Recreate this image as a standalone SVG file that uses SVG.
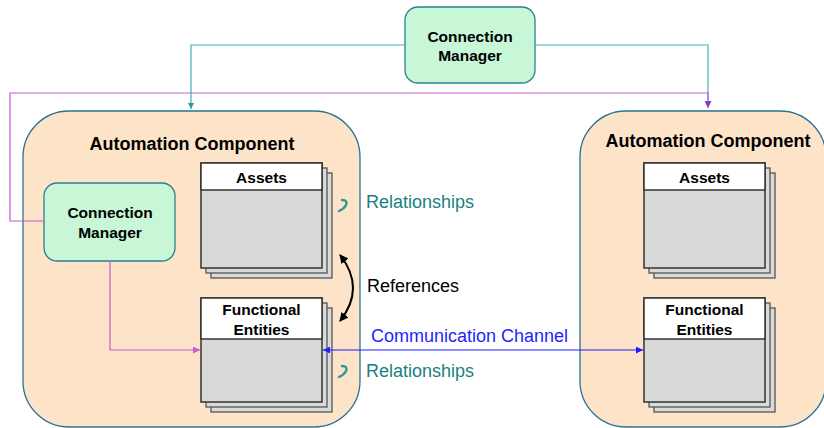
<svg xmlns="http://www.w3.org/2000/svg" width="824" height="428" viewBox="0 0 824 428">
  <defs>
    <style>
      .container { fill: #fde3c8; stroke: #2b7393; stroke-width: 1.3; }
      .mgr { fill: #c7f7d6; stroke: #2f7f93; stroke-width: 1.3; }
      .sheet { fill: #dadada; stroke: #555; stroke-width: 1.3; }
      .front { fill: #d9d9d9; stroke: #333; stroke-width: 1.5; }
      .head { fill: #ffffff; stroke: #333; stroke-width: 1.5; }
      .title { font-family: "Liberation Sans", Arial, sans-serif; font-weight: bold; font-size: 18px; fill: #000; text-anchor: middle; }
      .lbl { font-family: "Liberation Sans", Arial, sans-serif; font-weight: bold; font-size: 15.5px; fill: #000; text-anchor: middle; }
      .note { font-family: "Liberation Sans", Arial, sans-serif; font-size: 18px; }
      .teal { fill: none; stroke: #45aeb6; stroke-width: 1.2; }
      .mag { fill: none; stroke: #c45ed2; stroke-width: 1.2; }
      .rel { fill: none; stroke: #2a9a92; stroke-width: 2.4; stroke-linecap: round; }
    </style>
    <marker id="ahTeal" viewBox="0 0 10 10" refX="10" refY="5" markerWidth="6" markerHeight="6" orient="auto" markerUnits="userSpaceOnUse">
      <path d="M0,0 L10,5 L0,10 z" fill="#2a9aa2"/>
    </marker>
    <marker id="ahPurple" viewBox="0 0 10 10" refX="10" refY="5" markerWidth="7" markerHeight="7" orient="auto" markerUnits="userSpaceOnUse">
      <path d="M0,0 L10,5 L0,10 z" fill="#8a3cc0"/>
    </marker>
    <marker id="ahMag" viewBox="0 0 10 10" refX="10" refY="5" markerWidth="7" markerHeight="7" orient="auto" markerUnits="userSpaceOnUse">
      <path d="M0,0 L10,5 L0,10 z" fill="#c45ed2"/>
    </marker>
    <marker id="ahBlue" viewBox="0 0 10 10" refX="10" refY="5" markerWidth="7" markerHeight="7" orient="auto-start-reverse" markerUnits="userSpaceOnUse">
      <path d="M0,0 L10,5 L0,10 z" fill="#1f1fff"/>
    </marker>
    <marker id="ahBlack" viewBox="0 0 10 10" refX="9" refY="5" markerWidth="9" markerHeight="9" orient="auto-start-reverse" markerUnits="userSpaceOnUse">
      <path d="M0,0 L10,5 L0,10 z" fill="#000"/>
    </marker>
  </defs>

  <rect width="824" height="428" fill="#ffffff"/>

  <!-- Automation components -->
  <g id="ac-left">
    <rect class="container" x="23" y="111" width="337" height="316" rx="46" ry="46"/>
    <text class="title" x="192" y="150">Automation Component</text>
  </g>
  <g id="ac-right">
    <rect class="container" x="580" y="111" width="246" height="316" rx="46" ry="46"/>
    <text class="title" x="708" y="147">Automation Component</text>
  </g>

  <!-- Connection managers -->
  <g id="cm-top">
    <rect class="mgr" x="405" y="7" width="130" height="76" rx="13" ry="13"/>
    <text class="lbl" x="470" y="42">Connection</text>
    <text class="lbl" x="470" y="61">Manager</text>
  </g>
  <g id="cm-left">
    <rect class="mgr" x="44" y="183" width="131" height="78" rx="13" ry="13"/>
    <text class="lbl" x="110" y="218">Connection</text>
    <text class="lbl" x="110" y="238">Manager</text>
  </g>

  <!-- Stacked sheets -->
  <g id="assets-left">
    <rect class="sheet" x="211" y="173" width="121" height="105"/>
    <rect class="sheet" x="206" y="168" width="121" height="105"/>
    <rect class="front" x="201" y="163" width="121" height="105"/>
    <rect class="head" x="201" y="163" width="121" height="27"/>
    <text class="lbl" x="261.5" y="183">Assets</text>
  </g>
  <g id="fe-left">
    <rect class="sheet" x="211" y="308" width="121" height="104"/>
    <rect class="sheet" x="206" y="303" width="121" height="104"/>
    <rect class="front" x="201" y="298" width="121" height="104"/>
    <rect class="head" x="201" y="298" width="121" height="41"/>
    <text class="lbl" x="261.5" y="315">Functional</text>
    <text class="lbl" x="261.5" y="335">Entities</text>
  </g>
  <g id="assets-right">
    <rect class="sheet" x="654" y="173" width="121" height="105"/>
    <rect class="sheet" x="649" y="168" width="121" height="105"/>
    <rect class="front" x="644" y="163" width="121" height="105"/>
    <rect class="head" x="644" y="163" width="121" height="27"/>
    <text class="lbl" x="704.5" y="183">Assets</text>
  </g>
  <g id="fe-right">
    <rect class="sheet" x="654" y="308" width="121" height="104"/>
    <rect class="sheet" x="649" y="303" width="121" height="104"/>
    <rect class="front" x="644" y="298" width="121" height="104"/>
    <rect class="head" x="644" y="298" width="121" height="41"/>
    <text class="lbl" x="704.5" y="315">Functional</text>
    <text class="lbl" x="704.5" y="335">Entities</text>
  </g>

  <!-- Connectors -->
  <g id="connectors">
    <polyline class="teal" points="405,45 191,45 191,109" marker-end="url(#ahTeal)"/>
    <polyline class="teal" points="535,45 708,45 708,100"/>
    <polyline class="mag" points="44,221 10,221 10,93 708,93 708,108" marker-end="url(#ahPurple)"/>
    <polyline class="mag" points="110,261 110,350 200,350" marker-end="url(#ahMag)"/>
    <line x1="323" y1="350" x2="643" y2="350" stroke="#1f1fff" stroke-width="1.2" marker-start="url(#ahBlue)" marker-end="url(#ahBlue)"/>
    <path d="M340,255 Q366,288 340,321" fill="none" stroke="#000" stroke-width="2" marker-start="url(#ahBlack)" marker-end="url(#ahBlack)"/>
    <path class="rel" d="M342,200 Q348,200 346,205 Q344,209 339,211"/>
    <path class="rel" d="M342,366 Q348,366 346,371 Q344,375 339,377"/>
  </g>

  <!-- Labels -->
  <g id="labels">
    <text class="note" x="366" y="208" fill="#1a7f7f">Relationships</text>
    <text class="note" x="367" y="292" fill="#000">References</text>
    <text class="note" x="371" y="342" fill="#1f1fff">Communication Channel</text>
    <text class="note" x="366" y="377" fill="#1a7f7f">Relationships</text>
  </g>
</svg>
